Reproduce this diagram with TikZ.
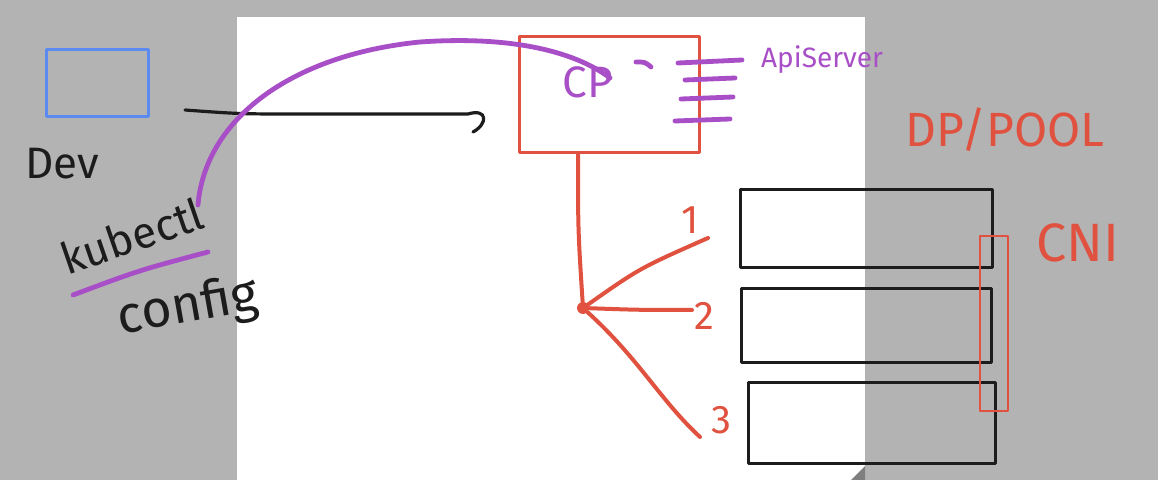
\documentclass[tikz,border=0pt]{standalone}
\usepackage{fontspec}
\setmainfont{Fira Sans}
\definecolor{bggray}{HTML}{B3B3B3}
\definecolor{sketchred}{HTML}{E0523F}
\definecolor{sketchpurple}{HTML}{A84FC8}
\definecolor{sketchblue}{HTML}{5B8AF0}
\definecolor{ink}{HTML}{1C1C1C}
\definecolor{cornergray}{HTML}{7F7F7F}
\tikzset{
  box/.style={draw, inner sep=0pt, line width=1.5pt},
  inkbox/.style={box, draw=ink},
  redbox/.style={box, draw=sketchred},
  inkline/.style={draw=ink, line width=1.6pt},
  redline/.style={draw=sketchred, line width=2pt},
  purpleline/.style={draw=sketchpurple, line width=2.4pt},
  label/.style={inner sep=0pt, font=\fontsize{22}{24}\selectfont},
}
\begin{document}
\begin{tikzpicture}[x=0.5pt,y=-0.5pt,line cap=round,line join=round]
\useasboundingbox (0,0) rectangle (1158,480);
\fill[bggray] (0,0) rectangle (1158,480);
\fill[white] (237,17) rectangle (865,480);
\fill[cornergray] (851,480) -- (865,466) -- (865,480) -- cycle;

% boxes
\node[box, draw=sketchblue, minimum width=51pt, minimum height=33.5pt] (dev) at (97,83.5) {};
\node[redbox, minimum width=90pt, minimum height=58pt] (cp) at (609,95) {};
\node[inkbox, minimum width=126pt, minimum height=39pt] (r1) at (866,229) {};
\node[inkbox, minimum width=125pt, minimum height=37pt] (r2) at (866,326) {};
\node[inkbox, minimum width=123.5pt, minimum height=40.5pt] (r3) at (871.5,423.5) {};
\node[redbox, line width=1.2pt, minimum width=14pt, minimum height=87.5pt] (cni) at (994,323.5) {};

% texts
\node[label, text=ink] (devtxt) at (62,164) {Dev};
\node[label, text=ink, rotate=19] (kubectl) at (132,236) {kubectl};
\node[label, text=ink, rotate=10, font=\fontsize{26}{28}\selectfont] (config) at (188,308) {config};
\node[label, text=sketchpurple] (cptxt) at (588,82) {CP};
\node[label, text=sketchpurple, font=\fontsize{14}{16}\selectfont] (api) at (822,60) {ApiServer};
\node[label, text=sketchred, font=\fontsize{24}{26}\selectfont] (dp) at (1005,130) {DP/POOL};
\node[label, text=sketchred, font=\fontsize{27}{29}\selectfont] (cnitxt) at (1078,243) {CNI};
\node[label, text=sketchred, font=\fontsize{20}{22}\selectfont] (one) at (690,220) {1};
\node[label, text=sketchred, font=\fontsize{20}{22}\selectfont] (two) at (704,316) {2};
\node[label, text=sketchred, font=\fontsize{20}{22}\selectfont] (three) at (721,420) {3};

% black connector dev -> cp
\coordinate (a1) at (185,110);
\coordinate (a2) at (468,114);
\coordinate (a3) at (473,132);
\draw[inkline] (a1) .. controls (240,114) .. (300,114) -- (a2)
  .. controls (488,108) and (488,124) .. (a3);

% purple kubectl -> cp curve
\coordinate (k1) at (198,205);
\coordinate (k2) at (420,42);
\coordinate (k3) at (610,78);
\draw[purpleline] (k1) .. controls (205,120) and (290,55) .. (k2)
  .. controls (520,35) and (580,55) .. (k3);
\draw[purpleline] (73,295) .. controls (140,270) .. (208,252);
\draw[purpleline] (636,62) .. controls (645,62) .. (651,67);

% apiserver ticks
\draw[purpleline] (678,63) -- (742,60);
\draw[purpleline] (685,80) -- (735,78);
\draw[purpleline] (681,99) -- (733,97);
\draw[purpleline] (675,121) -- (730,119);

% red fan
\node[circle, fill=sketchred, inner sep=0pt, minimum size=6pt] (hub) at (583,308) {};
\coordinate (cpout) at (578,153);
\coordinate (e1) at (708,238);
\coordinate (e2) at (692,310);
\coordinate (e3) at (700,437);
\draw[redline] (cpout) .. controls (578,230) .. (hub);
\draw[redline] (hub) .. controls (640,268) .. (e1);
\draw[redline] (hub) .. controls (640,310) .. (e2);
\draw[redline] (hub) .. controls (640,360) and (660,400) .. (e3);
\end{tikzpicture}
\end{document}
